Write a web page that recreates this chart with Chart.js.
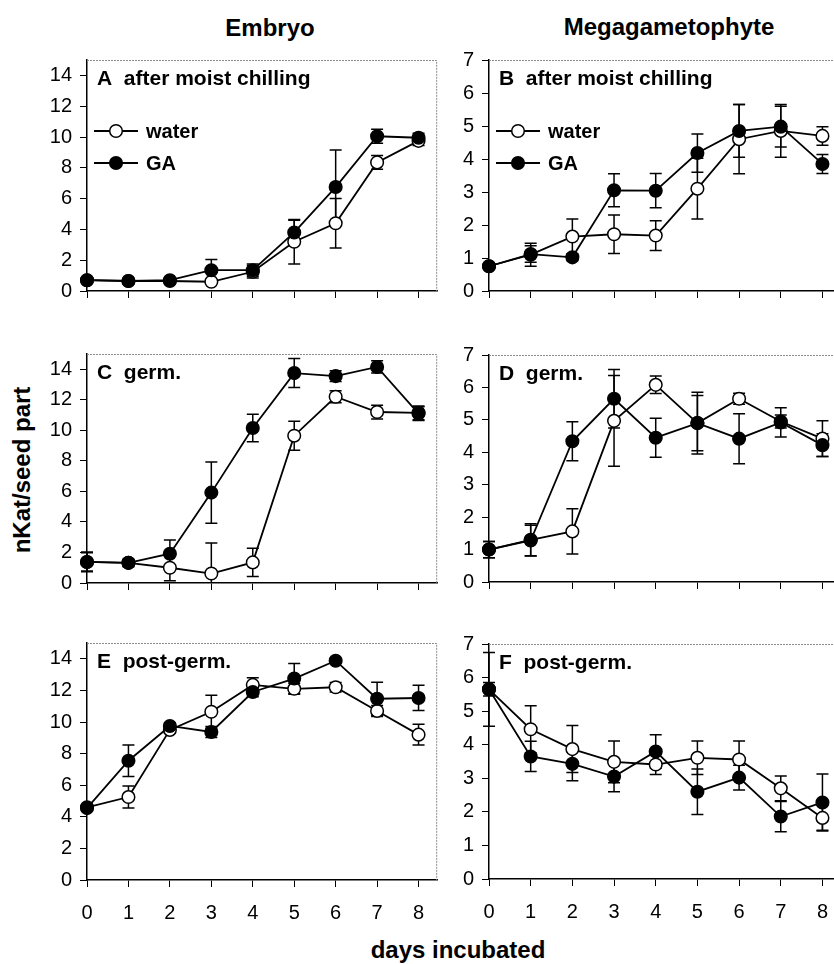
<!DOCTYPE html>
<html>
<head>
<meta charset="utf-8">
<script src="https://cdn.jsdelivr.net/npm/chart.js@4.4.1/dist/chart.umd.min.js"></script>
<style>
  body { margin:0; width:834px; height:964px; overflow:hidden; background:#fff; position:relative; font-family:"Liberation Sans", Arial, sans-serif; }
  canvas { position:absolute; }
  .t { position:absolute; font-weight:bold; font-size:24px; color:#000; white-space:nowrap; transform:translate(-50%,-50%); }
</style>
</head>
<body>
<div class="t" style="left:270px; top:28px">Embryo</div>
<div class="t" style="left:669px; top:27px">Megagametophyte</div>
<div class="t" style="left:22px; top:470px; transform:translate(-50%,-50%) rotate(-90deg)">nKat/seed part</div>
<div class="t" style="left:458px; top:950px">days incubated</div>

<canvas id="cA" width="445" height="271" style="left:0; top:40px"></canvas>
<canvas id="cB" width="447" height="271" style="left:402px; top:40px"></canvas>
<canvas id="cC" width="445" height="269" style="left:0; top:334px"></canvas>
<canvas id="cD" width="447" height="267" style="left:402px; top:335px"></canvas>
<canvas id="cE" width="445" height="307" style="left:0; top:623px"></canvas>
<canvas id="cF" width="447" height="305" style="left:402px; top:624px"></canvas>

<script>
// days op de x-as
const days = [0, 1, 2, 3, 4, 5, 6, 7, 8];
const embryoTicks = [0, 2, 4, 6, 8, 10, 12, 14];
const megaTicks = [0, 1, 2, 3, 4, 5, 6, 7];

// A embryo, after moist chilling
const waterA = [0.7, 0.65, 0.65, 0.6, 1.25, 3.2, 4.4, 8.35, 9.75];
const waterErrA = [0.1, 0.1, 0.1, 0.1, 0.4, 1.45, 1.6, 0.45, 0.3];
const gaA = [0.7, 0.65, 0.7, 1.35, 1.35, 3.8, 6.75, 10.05, 9.95];
const gaErrA = [0.1, 0.1, 0.1, 0.7, 0.4, 0.8, 2.4, 0.45, 0.3];

// B megagametophyte, after moist chilling
const waterB = [0.75, 1.1, 1.65, 1.72, 1.68, 3.1, 4.6, 4.85, 4.7];
const waterErrB = [0.05, 0.35, 0.53, 0.58, 0.45, 0.92, 1.05, 0.8, 0.28];
const gaB = [0.75, 1.12, 1.02, 3.05, 3.04, 4.18, 4.85, 4.98, 3.85];
const gaErrB = [0.05, 0.25, 0.1, 0.5, 0.52, 0.58, 0.8, 0.62, 0.29];

// C embryo, germ.
const waterC = [1.38, 1.32, 1.0, 0.62, 1.35, 9.65, 12.2, 11.2, 11.15];
const waterErrC = [0.6, 0.2, 0.85, 2.0, 0.92, 0.95, 0.4, 0.45, 0.45];
const gaC = [1.38, 1.32, 1.92, 5.92, 10.15, 13.75, 13.55, 14.15, 11.1];
const gaErrC = [0.65, 0.25, 0.9, 2.0, 0.9, 0.95, 0.35, 0.4, 0.45];

// D megagametophyte, germ.
const waterD = [1.0, 1.3, 1.56, 4.97, 6.08, 4.9, 5.65, 4.95, 4.42];
const waterErrD = [0.25, 0.5, 0.7, 1.4, 0.27, 0.85, 0.17, 0.2, 0.55];
const gaD = [1.0, 1.28, 4.34, 5.65, 4.45, 4.9, 4.42, 4.92, 4.22];
const gaErrD = [0.25, 0.47, 0.6, 0.9, 0.6, 0.95, 0.77, 0.45, 0.35];

// E embryo, post-germ.
const waterE = [4.6, 5.25, 9.5, 10.65, 12.35, 12.1, 12.2, 10.7, 9.2];
const waterErrE = [0.1, 0.7, 0.2, 1.05, 0.45, 0.35, 0.3, 0.35, 0.65];
const gaE = [4.55, 7.55, 9.75, 9.37, 11.9, 12.75, 13.88, 11.47, 11.52];
const gaErrE = [0.2, 1.0, 0.2, 0.35, 0.3, 0.95, 0.15, 1.05, 0.8];

// F megagametophyte, post-germ.
const waterF = [5.65, 4.46, 3.87, 3.49, 3.41, 3.61, 3.56, 2.7, 1.82];
const waterErrF = [0.2, 0.7, 0.7, 0.62, 0.3, 0.5, 0.55, 0.37, 0.37];
const gaF = [5.65, 3.65, 3.43, 3.05, 3.8, 2.6, 3.02, 1.86, 2.28];
const gaErrF = [1.1, 0.45, 0.5, 0.45, 0.5, 0.68, 0.37, 0.45, 0.85];

Chart.defaults.font.family = '"Liberation Sans", Arial, sans-serif';
Chart.defaults.color = '#000';

const FONT = '"Liberation Sans", Arial, sans-serif';

function marker(ctx, x, y, fill) {
    ctx.beginPath();
    ctx.arc(x, y, 6.3, 0, Math.PI * 2);
    ctx.fillStyle = fill;
    ctx.fill();
    ctx.lineWidth = 1.5;
    ctx.strokeStyle = '#000';
    ctx.stroke();
}

// kader, foutbalken, paneel tekst en legenda
const panelDeco = {
    id: 'panelDeco',
    beforeDatasetsDraw(chart) {
        const ctx = chart.ctx, a = chart.chartArea;
        const xs = chart.scales.x, ys = chart.scales.y;
        ctx.save();
        ctx.strokeStyle = '#8c8c8c';
        ctx.lineWidth = 1;
        ctx.setLineDash([2, 1]);
        ctx.beginPath();
        ctx.moveTo(a.left, a.top + 0.5);
        ctx.lineTo(a.right - 0.5, a.top + 0.5);
        ctx.lineTo(a.right - 0.5, a.bottom);
        ctx.stroke();
        ctx.setLineDash([]);
        ctx.strokeStyle = '#000';
        ctx.lineWidth = 1.5;
        chart.data.datasets.forEach(ds => {
            ds.data.forEach((p, i) => {
                const e = ds.errs[i];
                const px = xs.getPixelForValue(p.x);
                const top = ys.getPixelForValue(p.y + e);
                const bot = ys.getPixelForValue(Math.max(p.y - e, 0));
                ctx.beginPath();
                ctx.moveTo(px, top);
                ctx.lineTo(px, bot);
                ctx.moveTo(px - 6, top);
                ctx.lineTo(px + 6, top);
                if (p.y - e > 0) {
                    ctx.moveTo(px - 6, bot);
                    ctx.lineTo(px + 6, bot);
                }
                ctx.stroke();
            });
        });
        ctx.restore();
    },
    afterDatasetsDraw(chart, args, opts) {
        const ctx = chart.ctx, a = chart.chartArea;
        ctx.save();
        ctx.fillStyle = '#000';
        ctx.font = 'bold 21px ' + FONT;
        ctx.textBaseline = 'alphabetic';
        ctx.fillText(opts.label, a.left + 10, a.top + 25);
        if (opts.legend) {
            const rows = [['water', '#fff', 71], ['GA', '#000', 103]];
            rows.forEach(r => {
                const y = a.top + r[2];
                ctx.beginPath();
                ctx.moveTo(a.left + 7, y);
                ctx.lineTo(a.left + 51, y);
                ctx.lineWidth = 1.8;
                ctx.strokeStyle = '#000';
                ctx.stroke();
                marker(ctx, a.left + 29, y, r[1]);
                ctx.fillStyle = '#000';
                ctx.font = 'bold 20px ' + FONT;
                ctx.textBaseline = 'middle';
                ctx.fillText(r[0], a.left + 59, y + 1);
            });
        }
        ctx.restore();
    }
};

function series(label, vals, errs, fill, order) {
    return {
        label: label,
        data: days.map((d, i) => ({ x: d, y: vals[i] })),
        errs: errs,
        borderColor: '#000',
        borderWidth: 1.8,
        pointRadius: 6.3,
        pointBorderWidth: 1.5,
        pointBackgroundColor: fill,
        pointBorderColor: '#000',
        order: order,
        clip: false
    };
}

function panel(id, water, waterErr, ga, gaErr, yMax, yTicks, label, showX, legend) {
    const xH = showX ? 50 : 12;
    return new Chart(document.getElementById(id), {
        type: 'line',
        data: {
            datasets: [
                series('water', water, waterErr, '#fff', 1),
                series('GA', ga, gaErr, '#000', 0)
            ]
        },
        options: {
            responsive: false,
            animation: false,
            layout: { padding: { top: 18, right: 5, left: 0, bottom: 0 } },
            plugins: {
                legend: { display: false },
                tooltip: { enabled: false },
                panelDeco: { label: label, legend: legend }
            },
            scales: {
                x: {
                    type: 'linear',
                    min: 0,
                    max: 8.45,
                    afterBuildTicks: s => { s.ticks = days.map(v => ({ value: v })); },
                    ticks: { display: showX, padding: 14, color: '#000', font: { size: 20 } },
                    grid: { display: true, drawOnChartArea: false, drawTicks: true, tickLength: 7, color: '#000', lineWidth: 1 },
                    border: { display: true, color: '#000', width: 1.5 },
                    afterFit: s => { s.height = xH; }
                },
                y: {
                    min: 0,
                    max: yMax,
                    afterBuildTicks: s => { s.ticks = yTicks.map(v => ({ value: v })); },
                    ticks: { padding: 8, color: '#000', font: { size: 20 } },
                    grid: { display: true, drawOnChartArea: false, drawTicks: true, tickLength: 7, color: '#000', lineWidth: 1 },
                    border: { display: true, color: '#000', width: 1.5 },
                    afterFit: s => { s.width = 87; }
                }
            }
        },
        plugins: [panelDeco]
    });
}

panel('cA', waterA, waterErrA, gaA, gaErrA, 15, embryoTicks, 'A  after moist chilling', false, true);
panel('cB', waterB, waterErrB, gaB, gaErrB, 7, megaTicks, 'B  after moist chilling', false, true);
panel('cC', waterC, waterErrC, gaC, gaErrC, 15, embryoTicks, 'C  germ.', false, false);
panel('cD', waterD, waterErrD, gaD, gaErrD, 7, megaTicks, 'D  germ.', false, false);
panel('cE', waterE, waterErrE, gaE, gaErrE, 15, embryoTicks, 'E  post-germ.', true, false);
panel('cF', waterF, waterErrF, gaF, gaErrF, 7, megaTicks, 'F  post-germ.', true, false);
</script>
</body>
</html>
